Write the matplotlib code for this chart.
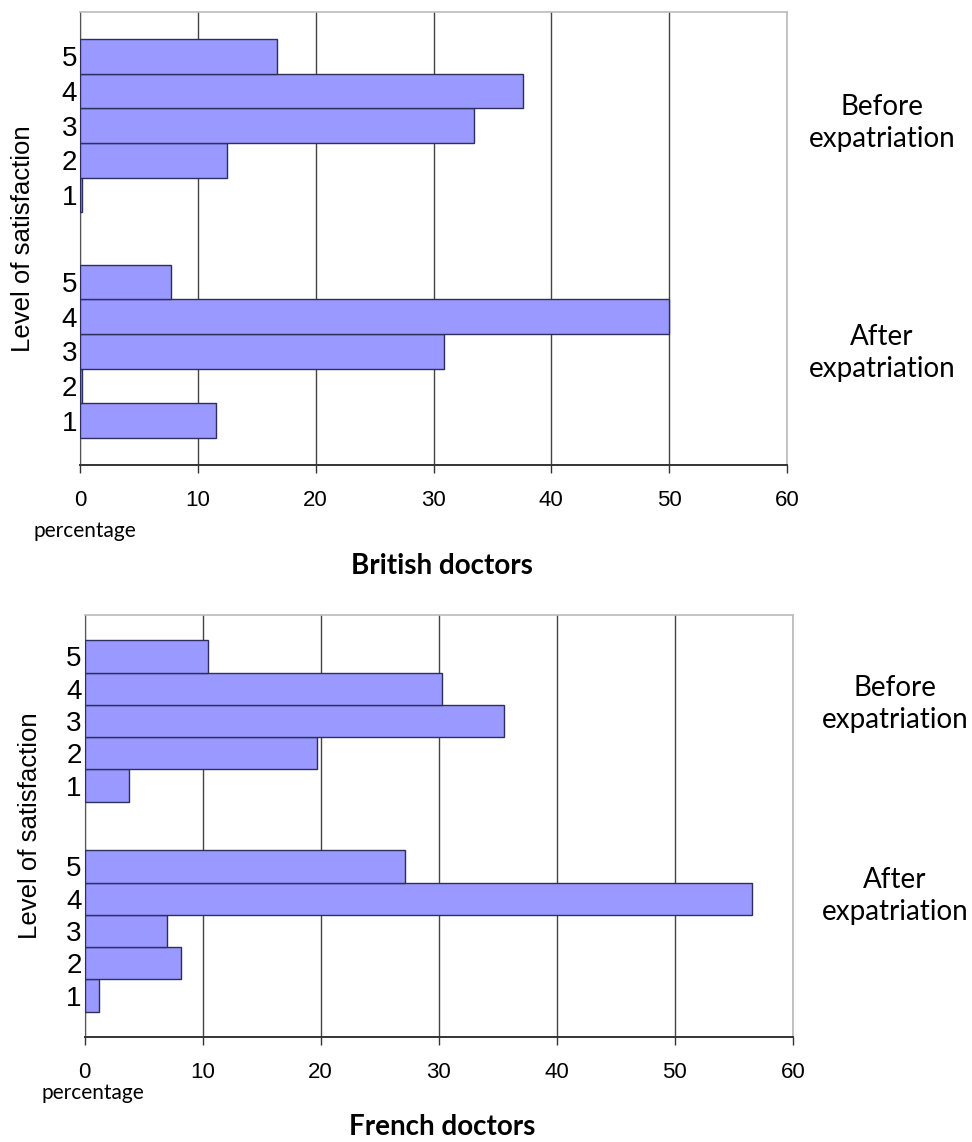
import matplotlib
matplotlib.use("Agg")
import matplotlib.pyplot as plt
import numpy as np

levels = [1, 2, 3, 4, 5]
british_before = [0.2, 12.5, 33.4, 37.6, 16.7]
british_after = [11.5, 0.2, 30.9, 50.0, 7.7]
french_before = [3.8, 19.7, 35.5, 30.3, 10.5]
french_after = [1.2, 8.2, 7.0, 56.5, 27.1]
xticks = [0, 10, 20, 30, 40, 50, 60]
titles = ["British doctors", "French doctors"]

W, H = 972, 1142
fig = plt.figure(figsize=(W / 100, H / 100), dpi=100)

BAR = "#9999FF"
EDGE = "#2E2E5C"
GAP = 1.5

def draw(rect, before, after, title, ylab_x, pct_xy, title_y, right_x, right_ys):
    ax = fig.add_axes(rect)
    after_pos = np.arange(len(levels), dtype=float)
    before_pos = after_pos + len(levels) + GAP
    ax.barh(after_pos, after, height=1.0, color=BAR, edgecolor=EDGE, linewidth=1.0, zorder=3)
    ax.barh(before_pos, before, height=1.0, color=BAR, edgecolor=EDGE, linewidth=1.0, zorder=3)
    ax.set_xlim(0, 60)
    ax.set_ylim(-0.5 - 0.78, before_pos[-1] + 0.5 + 0.78)
    ax.set_xticks(xticks)
    ax.set_xticklabels([str(t) for t in xticks],
                       fontdict=dict(family=["Liberation Sans Narrow", "Liberation Sans"], size=16))
    ax.set_yticks(list(after_pos) + list(before_pos))
    ax.set_yticklabels([str(l) for l in levels] * 2,
                       fontdict=dict(family=["Liberation Sans"], size=20))
    ax.tick_params(axis="y", length=0, pad=2)
    ax.tick_params(axis="x", direction="out", length=6, width=1, color="#333333", pad=12)
    ax.grid(axis="x", color="#444444", linewidth=1.0, zorder=1)
    ax.set_axisbelow(True)
    for s in ("top", "right"):
        ax.spines[s].set_color("#BBBBBB")
        ax.spines[s].set_linewidth(1.2)
    ax.spines["left"].set_color("#555555")
    ax.spines["bottom"].set_color("#333333")
    ax.spines["bottom"].set_linewidth(1.4)
    ymid = rect[1] + rect[3] / 2
    fig.text(ylab_x, ymid, "Level of satisfaction", rotation=90, ha="center", va="center",
             family=["Liberation Sans"], size=18.5)
    fig.text(pct_xy[0], pct_xy[1], "percentage", ha="center", va="center",
             family=["Lato"], size=15)
    fig.text(0.455, title_y, title, ha="center", va="center",
             family=["Lato"], weight="bold", size=20)
    fig.text(right_x, right_ys[0], "Before\nexpatriation", ha="center", va="center",
             family=["Lato"], size=20, linespacing=1.25)
    fig.text(right_x, right_ys[1], "After\nexpatriation", ha="center", va="center",
             family=["Lato"], size=20, linespacing=1.25)
    return ax

# top panel
draw([80 / W, 1 - 465 / H, 707 / W, (465 - 12) / H],
     british_before, british_after, titles[0],
     ylab_x=23 / W, pct_xy=(85 / W, 1 - 531 / H), title_y=1 - 566 / H,
     right_x=882 / W, right_ys=(1 - 123 / H, 1 - 353 / H))

# bottom panel
draw([84.5 / W, 1 - 1037 / H, 708.5 / W, (1037 - 615) / H],
     french_before, french_after, titles[1],
     ylab_x=30 / W, pct_xy=(93 / W, 1 - 1093 / H), title_y=1 - 1127 / H,
     right_x=895 / W, right_ys=(1 - 704 / H, 1 - 896 / H))

fig.savefig("out.png", dpi=100, facecolor="white")
